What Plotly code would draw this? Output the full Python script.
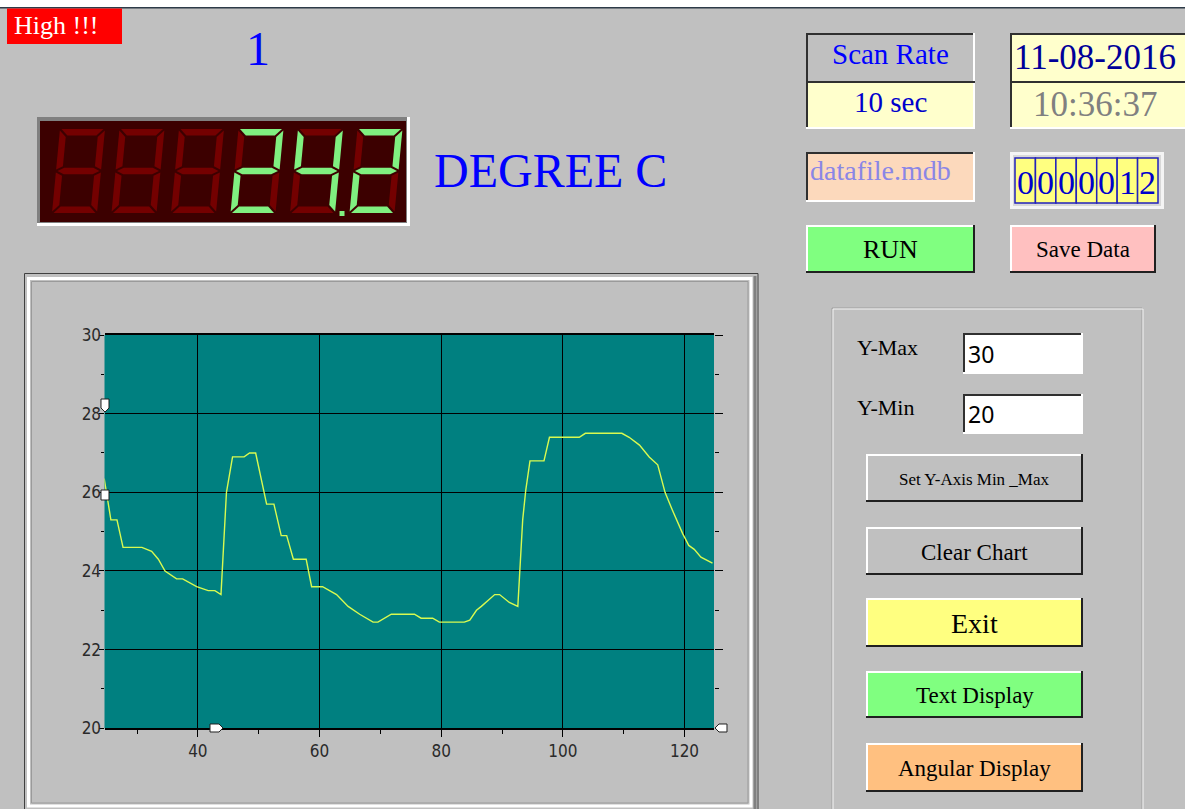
import plotly.graph_objects as go

W, H = 1185, 809
# the page is photographed with the figure occupying rows TOP .. TOP+HE
TOP, HE = 10, 789

# ---------------- data ----------------
time_s = [24.6, 25.7, 26.7, 27.7, 30.8, 32.4, 33.5, 34.6, 36.5, 37.5, 39.8, 41.7, 42.8, 43.8,
          44.7, 45.7, 47.6, 48.5, 49.5, 51.3, 52.5, 53.7, 54.6, 55.7, 57.8, 58.7, 60.5,
          62.8, 64.7, 66.6, 68.8, 69.6, 71.8, 75.6, 76.7, 78.6, 79.7, 83.8, 84.7, 85.8,
          86.6, 88.0, 88.8, 89.6, 91.2, 92.6, 92.9, 93.4, 93.9, 94.6, 96.9, 97.8, 102.7,
          103.7, 109.7, 110.9, 112.6, 114.2, 115.6, 116.8, 118.0, 119.7, 120.7, 121.6,
          122.7, 124.6]
temp_c = [26.35, 25.3, 25.3, 24.6, 24.6, 24.5, 24.3, 24.0, 23.8, 23.8, 23.6, 23.5, 23.5, 23.4,
          26.0, 26.9, 26.9, 27.0, 27.0, 25.7, 25.7, 24.9, 24.9, 24.3, 24.3, 23.6, 23.6,
          23.4, 23.1, 22.9, 22.7, 22.7, 22.9, 22.9, 22.8, 22.8, 22.7, 22.7, 22.75, 23.0,
          23.1, 23.3, 23.4, 23.4, 23.2, 23.1, 24.0, 25.3, 26.05, 26.8, 26.8, 27.4, 27.4,
          27.5, 27.5, 27.4, 27.2, 26.9, 26.7, 26.0, 25.55, 24.95, 24.65, 24.55,
          24.35, 24.2]
x_range = [24.65, 124.85]
y_range = [20, 30]
x_major_ticks = [40, 60, 80, 100, 120]
y_major_ticks = [20, 22, 24, 26, 28, 30]

display_digits = [None, None, None, "2", "4", "2"]
counter_digits = list("0000012")
y_max_text = "30"
y_min_text = "20"

BG = "#C0C0C0"
SERIF = "Liberation Serif, Times New Roman, serif"
NARROW = "Liberation Sans Narrow, Arial Narrow, DejaVu Sans Condensed, sans-serif"

shapes = []
annos = []


def X(p):
    return p / W


def Y(p):
    return 1 - (p - TOP) / HE


def rect(x0, y0, x1, y1, fill=None, line=None, lw=1, layer="above"):
    d = dict(type="rect", xref="paper", yref="paper", x0=X(x0), x1=X(x1), y0=Y(y0), y1=Y(y1),
             layer=layer, line=dict(width=lw if line else 0, color=line or "rgba(0,0,0,0)"))
    if fill:
        d["fillcolor"] = fill
    shapes.append(d)


def hline(x0, x1, y, color, lw=1):
    shapes.append(dict(type="line", xref="paper", yref="paper", x0=X(x0), x1=X(x1), y0=Y(y), y1=Y(y),
                       line=dict(color=color, width=lw)))


def vline(x, y0, y1, color, lw=1):
    shapes.append(dict(type="line", xref="paper", yref="paper", x0=X(x), x1=X(x), y0=Y(y0), y1=Y(y1),
                       line=dict(color=color, width=lw)))


def text(x, y, s, size, color="black", family=SERIF, xa="center", ya="middle"):
    annos.append(dict(xref="paper", yref="paper", x=X(x), y=Y(y), text=s, showarrow=False,
                      xanchor=xa, yanchor=ya, font=dict(size=size, color=color, family=family)))


def sunken(x0, y0, x1, y1, fill):
    rect(x0, y0, x1, y1, fill=fill)
    hline(x0, x1, y0 + 1, "#303030", 2)
    vline(x0 + 1, y0, y1, "#303030", 2)
    hline(x0, x1, y1 - 1, "#FFFFFF", 2)
    vline(x1 - 1, y0, y1, "#FFFFFF", 2)


def raised(x0, y0, x1, y1, fill):
    rect(x0, y0, x1, y1, fill=fill)
    hline(x0, x1, y0 + 1, "#FFFFFF", 2)
    vline(x0 + 1, y0, y1, "#FFFFFF", 2)
    hline(x0, x1, y1 - 1, "#202020", 2)
    vline(x1 - 1, y0, y1, "#202020", 2)


def poly(pts, color, line=None):
    path = "M " + " L ".join(f"{X(a):.5f},{Y(b):.5f}" for a, b in pts) + " Z"
    shapes.append(dict(type="path", xref="paper", yref="paper", path=path, fillcolor=color,
                       line=dict(width=1 if line else 0, color=line or "rgba(0,0,0,0)")))


# ---------------- window top edge ----------------
rect(0, -5, W, 7, fill="#FFFFFF")
hline(0, W, 7.8, "#2E3B48", 1.5)

# ---------------- High !!! ----------------
rect(7, 8.5, 122, 44, fill="#FF0000")
text(12, 26, "High !!!", 26, "#FFFFFF", xa="left")

text(258, 48, "1", 48, "#0000FF")

# ---------------- seven segment display ----------------
rect(37, 117, 410, 226, fill="#FFFFFF")
rect(37, 117, 407, 223, fill="#808080")
rect(40, 121, 406, 222, fill="#3C0000")

SEGS = {"0": "abcdef", "1": "bc", "2": "abged", "3": "abgcd", "4": "fgbc", "5": "afgcd",
        "6": "afgedc", "7": "abc", "8": "abcdefg", "9": "abcdfg"}


def digit(ox, oy, on, color_on="#80F080", color_off="#740000"):
    w, h, t, g, s = 45, 84, 6.5, 1.5, 0.095

    def T(pts):
        return [(ox + u + s * v, oy - v) for u, v in pts]
    m = h / 2
    segs = {
        "a": [(g, h), (w - g, h), (w - g - t, h - t), (g + t, h - t)],
        "d": [(g, 0), (w - g, 0), (w - g - t, t), (g + t, t)],
        "g": [(g, m), (g + t, m + t / 2), (w - g - t, m + t / 2), (w - g, m), (w - g - t, m - t / 2), (g + t, m - t / 2)],
        "f": [(0, h - g), (t, h - g - t), (t, m + g + t / 2), (0, m + g)],
        "b": [(w, h - g), (w - t, h - g - t), (w - t, m + g + t / 2), (w, m + g)],
        "e": [(0, m - g), (t, m - g - t / 2), (t, g + t), (0, g)],
        "c": [(w, m - g), (w - t, m - g - t / 2), (w - t, g + t), (w, g)],
    }
    lit = SEGS.get(on, "") if on else ""
    for k, pts in segs.items():
        poly(T(pts), color_on if k in lit else color_off)


for i, dch in enumerate(display_digits):
    digit(52 + i * 59.5, 213, dch)
# decimal point
poly([(339.5, 211), (344.5, 211), (344.5, 216), (339.5, 216)], "#80F080")

text(432, 170, "DEGREE C", 48, "#0000FF", xa="left")

# ---------------- top right panel ----------------
sunken(806, 33, 975, 129, "#FFFFCC")
rect(808, 35, 973, 81, fill=BG)
hline(806, 975, 82, "#303030", 2)
text(890, 54, "Scan Rate", 29, "#0000FF")
text(890, 102, "10 sec", 29, "#0000CC")

sunken(1010, 33, 1200, 129, "#FFFFCC")
hline(1010, 1200, 82, "#303030", 2)
text(1095, 57, "11-08-2016", 35, "#000099")
text(1095, 104, "10:36:37", 35, "#808080")

sunken(806, 152, 975, 202, "#FCD9BC")
text(808, 170, "datafile.mdb", 28, "#8A86E6", xa="left")

rect(1010, 152, 1164, 209, fill="#F4F4F4")
rect(1013, 155, 1161, 206, fill="#D8D8D8")
cw = (1158 - 1015) / 7
for i, ch in enumerate(counter_digits):
    rect(1015 + i * cw, 158, 1015 + (i + 1) * cw, 203, fill="#FFFF80", line="#2222BB", lw=1.5)
    text(1015 + (i + 0.5) * cw, 182, ch, 34, "#0000CC")

raised(806, 225, 975, 273, "#80FF80")
text(890, 249, "RUN", 26, "#000000")
raised(1010, 225, 1156, 273, "#FFC0C0")
text(1083, 249, "Save Data", 23, "#000000")

# ---------------- right control panel ----------------
rect(832, 308, 1142, 820, line="#A0A0A0", lw=1)
rect(833, 309, 1143, 821, line="#F4F4F4", lw=1)
text(855, 348, "Y-Max", 22, xa="left")
text(855, 407, "Y-Min", 22, xa="left")
sunken(963, 333, 1083, 374, "#FFFFFF")
sunken(963, 394, 1083, 434, "#FFFFFF")
text(966, 354, y_max_text, 23, "#000000", family="Noto Sans, DejaVu Sans, sans-serif", xa="left")
text(966, 414, y_min_text, 23, "#000000", family="Noto Sans, DejaVu Sans, sans-serif", xa="left")

buttons = [("Set Y-Axis Min _Max", 454, 502, BG, 17),
           ("Clear Chart", 527, 575, BG, 23),
           ("Exit", 598, 647, "#FFFF80", 28),
           ("Text Display", 671, 718, "#80FF80", 23),
           ("Angular Display", 743, 792, "#FFC080", 23)]
for label, y0, y1, col, fs in buttons:
    raised(866, y0, 1083, y1, col)
    text(974.5, (y0 + y1) / 2 + 1, label, fs, "#000000")

# ---------------- chart frame ----------------
rect(24.5, 273.5, 758, 830, line="#404040", lw=1)
rect(28.5, 278.5, 751, 806, line="#FFFFFF", lw=3)
rect(31.5, 281.5, 748, 803, line="#9A9A9A", lw=1)
vline(755, 276, 830, "#808080", 3)

# cursor markers (decoration)
poly([(101, 399), (109, 399), (109, 408), (105, 412), (101, 408)], "#FFFFFF", "#202020")
poly([(101, 490), (109, 490), (109, 500), (101, 500)], "#FFFFFF", "#202020")
poly([(210, 724), (219, 724), (223, 728), (219, 732), (210, 732)], "#FFFFFF", "#202020")
poly([(719, 724), (727, 724), (727, 732), (719, 732), (715, 728)], "#FFFFFF", "#202020")

# ---------------- chart ----------------
fig = go.Figure()
fig.add_trace(go.Scatter(x=time_s, y=temp_c, mode="lines",
                         line=dict(color="#D8FA50", width=1.4), hoverinfo="skip",
                         showlegend=False))
fig.add_trace(go.Scatter(x=[time_s[0]], y=[temp_c[0]], yaxis="y2", mode="markers",
                         marker=dict(opacity=0), showlegend=False, hoverinfo="skip"))

tickfont = dict(family=NARROW, size=17, color="#2A2A2A")
fig.update_layout(
    width=W, height=H, margin=dict(l=0, r=0, t=0, b=0),
    paper_bgcolor=BG, plot_bgcolor="#008080",
    showlegend=False,
    xaxis=dict(domain=[104.5 / W, 714 / W], range=x_range, tickvals=x_major_ticks,
               ticks="outside", ticklen=7, tickcolor="#000000", tickwidth=1,
               minor=dict(dtick=10, tick0=0, ticks="outside", ticklen=4, tickcolor="#000000"),
               showgrid=True, gridcolor="#000000", gridwidth=1, zeroline=False,
               showline=True, linecolor="#000000", linewidth=1.5, mirror=True,
               tickfont=tickfont, fixedrange=True),
    yaxis=dict(domain=[Y(728.3), Y(335)], range=y_range, tickvals=y_major_ticks,
               ticks="outside", ticklen=5, tickcolor="#000000",
               minor=dict(dtick=1, tick0=0, ticks="outside", ticklen=3, tickcolor="#000000"),
               showgrid=True, gridcolor="#000000", gridwidth=1, zeroline=False,
               showline=False, tickfont=tickfont, ticklabelstandoff=-6, fixedrange=True),
    yaxis2=dict(overlaying="y", side="right", anchor="x", range=y_range, tickvals=y_major_ticks,
                ticks="outside", ticklen=8, tickcolor="#000000",
                minor=dict(dtick=1, tick0=0, ticks="outside", ticklen=4, tickcolor="#000000"),
                showgrid=False, zeroline=False, showline=False, showticklabels=False,
                fixedrange=True),
    shapes=shapes, annotations=annos,
)

fig.write_html(
    "out.html", config={"displayModeBar": False},
    post_script=("document.documentElement.style.margin='0';"
                 "document.body.style.margin='0';document.body.style.overflow='hidden';"
                 "document.body.style.background='#C0C0C0';"))
